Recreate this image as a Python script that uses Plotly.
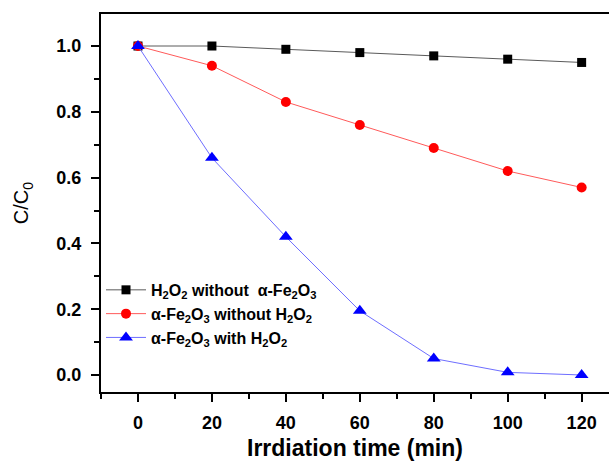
import plotly.graph_objects as go

time_min = [0, 20, 40, 60, 80, 100, 120]
h2o2_only = [1.0, 1.0, 0.99, 0.98, 0.97, 0.96, 0.95]
fe2o3_only = [1.0, 0.94, 0.83, 0.76, 0.69, 0.62, 0.57]
fe2o3_h2o2 = [1.0, 0.66, 0.42, 0.195, 0.05, 0.008, 0.0]

names = [
    "H<sub>2</sub>O<sub>2</sub> without  α-Fe<sub>2</sub>O<sub>3</sub>",
    "α-Fe<sub>2</sub>O<sub>3</sub> without H<sub>2</sub>O<sub>2</sub>",
    "α-Fe<sub>2</sub>O<sub>3</sub> with H<sub>2</sub>O<sub>2</sub>",
]
x_ticks = [0, 20, 40, 60, 80, 100, 120]
y_ticks = [0.0, 0.2, 0.4, 0.6, 0.8, 1.0]
y_ticktext = ["0.0", "0.2", "0.4", "0.6", "0.8", "1.0"]

FONT = "Liberation Sans, Arial, sans-serif"

fig = go.Figure()
fig.add_trace(go.Scatter(x=time_min, y=h2o2_only, name=names[0], mode="lines+markers",
                         line=dict(color="rgb(90,90,90)", width=1),
                         marker=dict(symbol="square", size=9, color="black")))
fig.add_trace(go.Scatter(x=time_min, y=fe2o3_only, name=names[1], mode="lines+markers",
                         line=dict(color="rgb(255,90,90)", width=1),
                         marker=dict(symbol="circle", size=10, color="red")))
fig.add_trace(go.Scatter(x=time_min, y=fe2o3_h2o2, name=names[2], mode="lines+markers",
                         line=dict(color="rgb(110,110,255)", width=1),
                         marker=dict(symbol="triangle-up", size=12, color="blue")))

fig.update_layout(
    width=609, height=461,
    margin=dict(l=101, r=0, t=14, b=69),
    paper_bgcolor="white", plot_bgcolor="white",
    font=dict(family=FONT, color="black"),
    showlegend=True,
    legend=dict(x=0.0, y=0.315, xanchor="left", yanchor="top",
                bgcolor="rgba(0,0,0,0)", font=dict(size=16, family=FONT, weight="bold"),
                tracegroupgap=0, itemwidth=40),
    xaxis=dict(range=[-10, 127.4], tickvals=x_ticks,
               ticks="outside", ticklen=8, tickwidth=1.5, tickcolor="black",
               ticklabelstandoff=5,
               minor=dict(dtick=10, tick0=0, ticks="outside", ticklen=5, tickwidth=1.5, tickcolor="black"),
               showline=True, linecolor="black", linewidth=2, mirror=True,
               showgrid=False, zeroline=False,
               tickfont=dict(size=18, family=FONT, weight="bold"),
               title=dict(text="Irrdiation time (min)", font=dict(size=23, family=FONT, weight="bold"), standoff=9)),
    yaxis=dict(range=[-0.0517, 1.0973], tickvals=y_ticks, ticktext=y_ticktext,
               ticks="outside", ticklen=8, tickwidth=1.5, tickcolor="black",
               ticklabelstandoff=6,
               minor=dict(dtick=0.1, tick0=0, ticks="outside", ticklen=5, tickwidth=1.5, tickcolor="black"),
               showline=True, linecolor="black", linewidth=2, mirror=False,
               showgrid=False, zeroline=False,
               tickfont=dict(size=18, family=FONT, weight="bold"),
               title=dict(text="C/C<sub>0</sub>", font=dict(size=20, family=FONT), standoff=22)),
)

fig.write_html("out.html",
               config={"displayModeBar": False},
               post_script="document.body.style.margin='0';document.documentElement.style.overflow='hidden';")
